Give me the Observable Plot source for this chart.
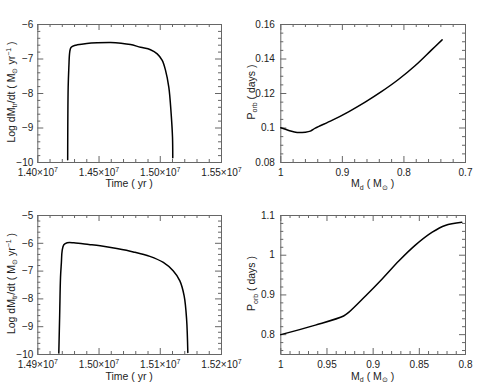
<!DOCTYPE html>
<html><head><meta charset="utf-8">
<script src="https://cdn.jsdelivr.net/npm/d3@7"></script>
<script src="https://cdn.jsdelivr.net/npm/@observablehq/plot@0.6"></script>
<style>
html,body{margin:0;padding:0;background:#fff;}
#wrap{position:relative;width:498px;height:387px;overflow:hidden;background:#fff;}
#wrap svg{position:absolute;overflow:visible;}
</style></head><body><div id="wrap"></div>
<script>
// ---- Panel A (top-left): log mass-transfer rate vs time
const aTime = [1.4244e7, 1.4248e7, 1.4254e7, 1.4259e7, 1.4265e7, 1.4273e7, 1.4300e7, 1.4322e7, 1.4400e7, 1.4485e7, 1.4594e7, 1.4680e7, 1.4757e7, 1.4839e7, 1.4920e7, 1.4975e7, 1.5016e7, 1.5043e7, 1.5070e7, 1.5089e7, 1.5100e7, 1.5102e7];
const aLogMdot = [-9.92, -7.82, -7.2, -6.85, -6.72, -6.66, -6.61, -6.59, -6.55, -6.53, -6.52, -6.54, -6.58, -6.66, -6.73, -6.85, -7.04, -7.33, -7.82, -8.59, -9.27, -9.86];
const aXTicks = [1.40e7, 1.45e7, 1.50e7, 1.55e7];
const aXLabels = ["1.40×10^{7}", "1.45×10^{7}", "1.50×10^{7}", "1.55×10^{7}"];
const aYTicks = [-10, -9, -8, -7, -6];
const aYLabels = ["−10", "−9", "−8", "−7", "−6"];

// ---- Panel B (top-right): orbital period vs donor mass
const bMd = [1.0, 0.987, 0.9735, 0.960, 0.952, 0.944, 0.917, 0.890, 0.863, 0.836, 0.809, 0.782, 0.755, 0.738];
const bPorb = [0.1001, 0.0986, 0.0974, 0.0976, 0.0982, 0.0999, 0.1044, 0.1094, 0.1150, 0.1212, 0.1281, 0.1361, 0.1453, 0.1511];
const bXTicks = [1, 0.9, 0.8, 0.7];
const bXLabels = ["1", "0.9", "0.8", "0.7"];
const bYTicks = [0.08, 0.10, 0.12, 0.14, 0.16];
const bYLabels = ["0.08", "0.1", "0.12", "0.14", "0.16"];

// ---- Panel C (bottom-left)
const cTime = [1.49343e7, 1.49357e7, 1.49371e7, 1.49385e7, 1.49398e7, 1.49425e7, 1.49480e7, 1.49588e7, 1.49833e7, 1.50020e7, 1.50290e7, 1.50560e7, 1.50830e7, 1.51050e7, 1.51210e7, 1.51320e7, 1.51390e7, 1.51430e7, 1.51450e7];
const cLogMdot = [-9.95, -8.6, -7.22, -6.7, -6.26, -6.05, -5.98, -5.98, -6.04, -6.09, -6.19, -6.31, -6.47, -6.69, -6.99, -7.35, -7.89, -8.73, -9.93];
const cXTicks = [1.49e7, 1.50e7, 1.51e7, 1.52e7];
const cXLabels = ["1.49×10^{7}", "1.50×10^{7}", "1.51×10^{7}", "1.52×10^{7}"];
const cYTicks = [-10, -9, -8, -7, -6, -5];
const cYLabels = ["−10", "−9", "−8", "−7", "−6", "−5"];

// ---- Panel D (bottom-right)
const dMd = [1.0, 0.9625, 0.932, 0.9265, 0.908, 0.890, 0.872, 0.854, 0.836, 0.822, 0.804];
const dPorb = [0.80, 0.824, 0.847, 0.856, 0.898, 0.941, 0.986, 1.026, 1.058, 1.075, 1.083];
const dXTicks = [1, 0.95, 0.9, 0.85, 0.8];
const dXLabels = ["1", "0.95", "0.9", "0.85", "0.8"];
const dYTicks = [0.8, 0.9, 1.0, 1.1];
const dYLabels = ["0.8", "0.9", "1", "1.1"];

const mdotTitle = "Log dM_{tr}/dt ( M_{⊙} yr^{−1} )";
const porbTitle = "P_{orb} ( days )";
const timeTitle = "Time ( yr )";
const mdTitle = "M_{d} ( M_{⊙} )";

const FONT = "'Liberation Sans Narrow', 'Liberation Sans', Arial, sans-serif";
const FRAME = "#666";
const TEXT = "#222";
const W = 249, H = 194;

function minorTicks(domain, step, majors) {
  const lo = Math.min(...domain), hi = Math.max(...domain);
  return d3.range(Math.ceil(lo / step - 1e-9), Math.floor(hi / step + 1e-9) + 1)
    .map(i => +(i * step).toPrecision(12))
    .filter(v => !majors.some(m => Math.abs(m - v) < step * 1e-3));
}

function rich(sel, str) {
  sel.text(null);
  const re = /([_^])\{([^}]*)\}/g;
  let last = 0, m, shift = 0;
  while ((m = re.exec(str))) {
    if (m.index > last) sel.append("tspan").attr("dy", -shift).text(str.slice(last, m.index)), shift = 0;
    const d = m[1] === "_" ? 2.5 : -4;
    sel.append("tspan").attr("dy", d - shift).attr("font-size", "7px").text(m[2]);
    shift = d;
    last = re.lastIndex;
  }
  if (last < str.length) sel.append("tspan").attr("dy", -shift).text(str.slice(last));
}

function panel(c) {
  const fw = W - c.mL - c.mR, fh = H - c.mT - c.mB;
  const xMin = minorTicks(c.xDomain, c.xStep, c.xTicks);
  const yMin = minorTicks(c.yDomain, c.yStep, c.yTicks);
  const data = c.xs.map((x, i) => ({x, y: c.ys[i]}));
  const tk = {stroke: FRAME, strokeWidth: 1};
  const plot = Plot.plot({
    width: W, height: H,
    marginLeft: c.mL, marginRight: c.mR, marginTop: c.mT, marginBottom: c.mB,
    x: {domain: c.xDomain, axis: null},
    y: {domain: c.yDomain, axis: null},
    style: {fontFamily: FONT, fontSize: "10px", background: "transparent", color: TEXT, overflow: "visible"},
    marks: [
      Plot.tickX(xMin, {x: d => d, insetTop: fh - 3, ...tk}),
      Plot.tickX(xMin, {x: d => d, insetBottom: fh - 3, ...tk}),
      Plot.tickX(c.xTicks, {x: d => d, insetTop: fh - 6, ...tk}),
      Plot.tickX(c.xTicks, {x: d => d, insetBottom: fh - 6, ...tk}),
      Plot.tickY(yMin, {y: d => d, insetRight: fw - 3, ...tk}),
      Plot.tickY(yMin, {y: d => d, insetLeft: fw - 3, ...tk}),
      Plot.tickY(c.yTicks, {y: d => d, insetRight: fw - 6, ...tk}),
      Plot.tickY(c.yTicks, {y: d => d, insetLeft: fw - 6, ...tk}),
      Plot.frame({stroke: FRAME, strokeWidth: 1}),
      Plot.line(data, {x: "x", y: "y", stroke: "#000", strokeWidth: 1.5, curve: "catmull-rom"}),
      Plot.text(c.xTicks, {x: d => d, text: (d, i) => c.xLabels[i], frameAnchor: "bottom", lineAnchor: "top", dy: 6.5, fill: TEXT, fontSize: 10}),
      Plot.text(c.yTicks, {y: d => d, text: (d, i) => c.yLabels[i], frameAnchor: "left", textAnchor: "end", dx: -c.gap, fill: TEXT, fontSize: 10})
    ]
  });
  plot.style.left = c.left + "px";
  plot.style.top = c.top + "px";
  const svg = d3.select(plot);
  svg.selectAll("text").each(function () {
    const t = this.textContent;
    if (/[_^]\{/.test(t)) rich(d3.select(this), t);
  });
  const g = svg.append("g").attr("fill", TEXT).attr("font-family", FONT).attr("font-size", "10.5px");
  rich(g.append("text").attr("text-anchor", "middle")
    .attr("x", c.mL + fw / 2).attr("y", c.xtY), c.xTitle);
  rich(g.append("text").attr("text-anchor", "middle")
    .attr("transform", `translate(${c.ytX},${c.mT + fh / 2 - 1}) rotate(-90)`), c.yTitle);
  document.getElementById("wrap").appendChild(plot);
}

panel({left: 0, top: 0, mL: 37.3, mR: 28, mT: 24, mB: 32,
  xDomain: [1.40e7, 1.55e7], yDomain: [-10, -6], xStep: 0.01e7, yStep: 0.2,
  xTicks: aXTicks, xLabels: aXLabels, yTicks: aYTicks, yLabels: aYLabels,
  xs: aTime, ys: aLogMdot, gap: 4.5, xTitle: timeTitle, yTitle: mdotTitle, xtY: 187, ytX: 14.5});

panel({left: 249, top: 0, mL: 31.3, mR: 33, mT: 24, mB: 32,
  xDomain: [1, 0.7], yDomain: [0.08, 0.16], xStep: 0.02, yStep: 0.005,
  xTicks: bXTicks, xLabels: bXLabels, yTicks: bYTicks, yLabels: bYLabels,
  xs: bMd, ys: bPorb, gap: 6, xTitle: mdTitle, yTitle: porbTitle, xtY: 187, ytX: 5.5});

panel({left: 0, top: 193, mL: 37.3, mR: 28, mT: 22, mB: 33,
  xDomain: [1.49e7, 1.52e7], yDomain: [-10, -5], xStep: 0.002e7, yStep: 0.2,
  xTicks: cXTicks, xLabels: cXLabels, yTicks: cYTicks, yLabels: cYLabels,
  xs: cTime, ys: cLogMdot, gap: 4.5, xTitle: timeTitle, yTitle: mdotTitle, xtY: 186.5, ytX: 14.5});

panel({left: 249, top: 193, mL: 31.3, mR: 33, mT: 22, mB: 33,
  xDomain: [1, 0.8], yDomain: [0.75, 1.1], xStep: 0.01, yStep: 0.02,
  xTicks: dXTicks, xLabels: dXLabels, yTicks: dYTicks, yLabels: dYLabels,
  xs: dMd, ys: dPorb, gap: 6, xTitle: mdTitle, yTitle: porbTitle, xtY: 186.5, ytX: 6});
</script>
</body></html>
